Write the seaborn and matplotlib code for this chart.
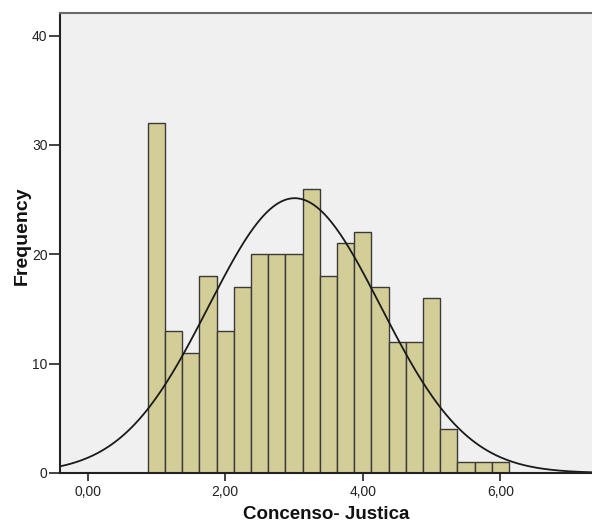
import numpy as np
import pandas as pd
import matplotlib
matplotlib.use("Agg")
import matplotlib.pyplot as plt
import seaborn as sns

# --- data ---
bin_start = 0.875
bin_width = 0.25
counts = [32, 13, 11, 18, 13, 17, 20, 20, 20, 26, 18, 21, 22, 17, 12, 12, 16, 4, 1, 1, 1]
curve_mean = 3.01
curve_sd = 1.25
x_ticks = [0.0, 2.0, 4.0, 6.0]
x_tick_labels = ["0,00", "2,00", "4,00", "6,00"]
y_ticks = [0, 10, 20, 30, 40]
x_label = "Concenso- Justica"
y_label = "Frequency"

sns.set_style("white")
plt.rcParams['font.family'] = ['Liberation Sans', 'DejaVu Sans']

edges = [bin_start + bin_width * i for i in range(len(counts) + 1)]
centers = [(edges[i] + edges[i + 1]) / 2 for i in range(len(counts))]
df = pd.DataFrame({"x": centers, "w": counts})

fig = plt.figure(figsize=(5.92, 5.29), dpi=100)
ax = fig.add_axes([60 / 592, 56 / 529, 1 - 60 / 592, (473 - 13) / 529])
ax.set_facecolor("#F0F0F0")

sns.histplot(data=df, x="x", weights="w", binwidth=bin_width, binrange=(edges[0], edges[-1]), ax=ax,
             color="#D3CE97", alpha=1.0, edgecolor="#3A3A3A", linewidth=1.0)

n_total = sum(counts)
xs = np.linspace(-0.5, 7.5, 400)
ys = n_total * bin_width * np.exp(-0.5 * ((xs - curve_mean) / curve_sd) ** 2) / (curve_sd * np.sqrt(2 * np.pi))
ax.plot(xs, ys, color="#1A1A1A", linewidth=1.3)

ax.set_xlim(-0.40, 7.33)
ax.set_ylim(0, 42.07)
ax.set_xticks(x_ticks)
ax.set_xticklabels(x_tick_labels)
ax.set_yticks(y_ticks)
ax.tick_params(axis="both", which="both", direction="out", width=1.2,
               color="#222222", labelsize=10, labelcolor="#222222", pad=1,
               bottom=True, left=True, top=False, right=False)
ax.tick_params(axis="y", length=8)
ax.tick_params(axis="x", length=6, pad=3)

ax.set_xlabel(x_label, fontsize=13.5, fontweight="bold", color="#111111", labelpad=5)
ax.set_ylabel(y_label, fontsize=14, fontweight="bold", color="#111111", labelpad=1)
ax.yaxis.label.set_y(0.515)

for side in ["left", "bottom"]:
    ax.spines[side].set_color("#222222")
    ax.spines[side].set_linewidth(1.5)
ax.spines["top"].set_color("#6A6A6A")
ax.spines["top"].set_linewidth(1.5)
ax.spines["right"].set_visible(False)

fig.savefig("out.png", dpi=100, facecolor="white")
